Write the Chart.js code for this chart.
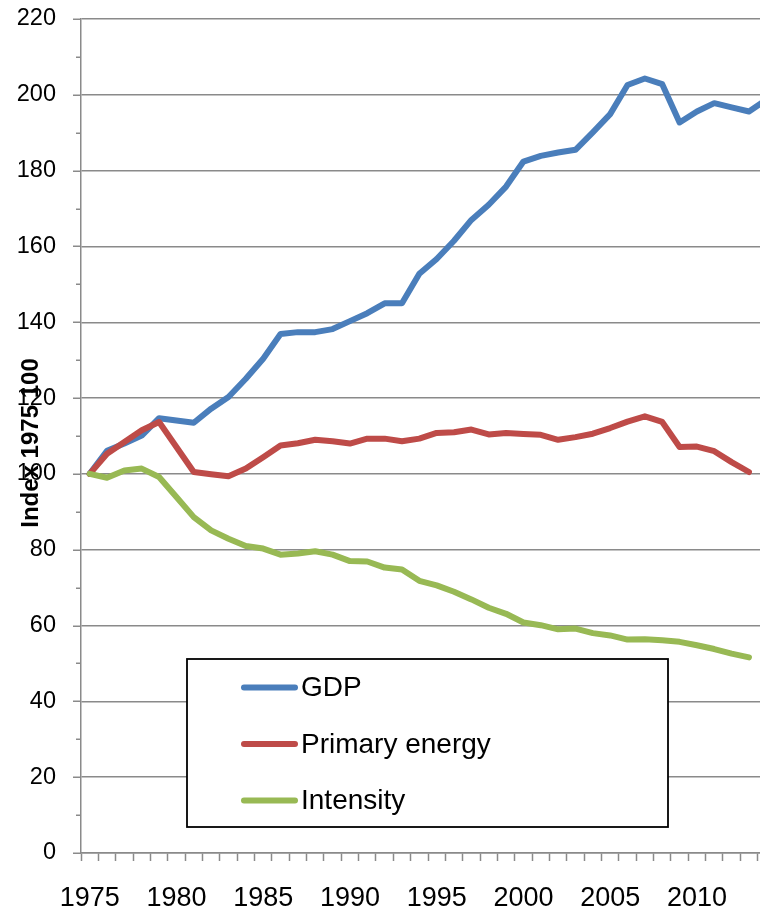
<!DOCTYPE html>
<html><head><meta charset="utf-8">
<style>
html,body{margin:0;padding:0;overflow:hidden;background:#fff;width:760px;height:910px}
#wrap{position:absolute;left:0;top:0;width:780px;height:910px}
</style>
<script src="https://cdn.jsdelivr.net/npm/chart.js@4/dist/chart.umd.min.js"></script>
</head><body><div id="wrap"><canvas id="c" width="780" height="910"></canvas></div>
<script>
const years = ['1975','1976','1977','1978','1979','1980','1981','1982','1983','1984',
  '1985','1986','1987','1988','1989','1990','1991','1992','1993','1994',
  '1995','1996','1997','1998','1999','2000','2001','2002','2003','2004',
  '2005','2006','2007','2008','2009','2010','2011','2012','2013','2014'];
const gdp = [100, 106.1, 108.0, 110.1, 114.7, 114.1, 113.5, 117.2, 120.3, 125.1,
  130.4, 136.9, 137.4, 137.4, 138.2, 140.3, 142.4, 145.0, 145.0, 152.8,
  156.7, 161.5, 167.0, 171.0, 175.8, 182.4, 183.9, 184.8, 185.5, 190.1,
  194.9, 202.6, 204.3, 202.8, 192.7, 195.6, 197.8, 196.7, 195.6, 198.7];
const primaryEnergy = [100, 105.3, 108.4, 111.5, 113.7, 107.1, 100.5, 99.9, 99.4, 101.4,
  104.4, 107.5, 108.1, 109.0, 108.6, 108.0, 109.3, 109.3, 108.6, 109.3,
  110.8, 111.0, 111.7, 110.4, 110.8, 110.5, 110.3, 109.0, 109.7, 110.6,
  112.1, 113.8, 115.2, 113.7, 107.1, 107.2, 106.0, 103.1, 100.5, null];
const intensity = [100, 99.0, 100.9, 101.4, 99.2, 93.9, 88.6, 85.1, 82.9, 81.0,
  80.3, 78.7, 79.0, 79.6, 78.7, 77.0, 76.9, 75.3, 74.8, 71.8,
  70.6, 68.9, 66.9, 64.7, 63.1, 60.8, 60.1, 59.0, 59.2, 58.0,
  57.4, 56.3, 56.4, 56.1, 55.7, 54.8, 53.8, 52.6, 51.6, null];
const seriesLabels = ['GDP', 'Primary energy', 'Intensity'];
const seriesColors = ['#4a7ebb', '#be4b48', '#98b954'];
const yTitle = 'Index 1975 100';
const yMin = 0, yMax = 220, yMajor = 20, yMinor = 10, xLabelEvery = 5;

const FONT = "'Liberation Sans', Arial, sans-serif";
const GRID = '#8a8a8a';

const yTickMarks = {
  id: 'yTickMarks',
  afterDraw(chart) {
    const s = chart.scales.y, ctx = chart.ctx;
    ctx.save();
    ctx.strokeStyle = GRID; ctx.lineWidth = 1.5;
    for (let v = yMin; v <= yMax; v += yMinor) {
      const y = Math.round(s.getPixelForValue(v)) + 0.25;
      const len = (v % yMajor === 0) ? 8 : 5;
      ctx.beginPath(); ctx.moveTo(s.right - len, y); ctx.lineTo(s.right, y); ctx.stroke();
    }
    ctx.restore();
  }
};

const yTitlePlugin = {
  id: 'yTitlePlugin',
  afterDraw(chart) {
    const ctx = chart.ctx, a = chart.chartArea;
    ctx.save();
    ctx.translate(31, (a.top + a.bottom) / 2 + 7);
    ctx.rotate(-Math.PI / 2);
    ctx.font = "bold 24px " + FONT;
    ctx.fillStyle = '#000';
    ctx.textAlign = 'center'; ctx.textBaseline = 'middle';
    ctx.fillText(yTitle, 0, 0);
    ctx.restore();
  }
};

const boxLegend = {
  id: 'boxLegend',
  afterDraw(chart) {
    const ctx = chart.ctx;
    const bx = 187, by = 659, bw = 481, bh = 168;
    ctx.save();
    ctx.fillStyle = '#fff';
    ctx.fillRect(bx, by, bw, bh);
    ctx.strokeStyle = '#000'; ctx.lineWidth = 1.8;
    ctx.strokeRect(bx, by, bw, bh);
    ctx.font = "28px " + FONT;
    ctx.textBaseline = 'middle'; ctx.textAlign = 'left';
    chart.data.datasets.forEach((ds, i) => {
      const y = 687.5 + i * 56.5;
      ctx.strokeStyle = ds.borderColor; ctx.lineWidth = 6; ctx.lineCap = 'round';
      ctx.beginPath(); ctx.moveTo(244, y); ctx.lineTo(295, y); ctx.stroke();
      ctx.fillStyle = '#000';
      ctx.fillText(ds.label, 301, y + 1);
    });
    ctx.restore();
  }
};

new Chart(document.getElementById('c'), {
  type: 'line',
  data: {
    labels: years,
    datasets: [
      { label: seriesLabels[0], data: gdp, borderColor: seriesColors[0], order: 3 },
      { label: seriesLabels[1], data: primaryEnergy, borderColor: seriesColors[1], order: 2 },
      { label: seriesLabels[2], data: intensity, borderColor: seriesColors[2], order: 1 }
    ]
  },
  options: {
    responsive: false,
    animation: false,
    devicePixelRatio: 1,
    layout: { padding: { top: 19, right: 5, bottom: 0, left: 0 } },
    elements: {
      line: { borderWidth: 6, tension: 0, borderJoinStyle: 'round', borderCapStyle: 'round', fill: false },
      point: { radius: 0, hoverRadius: 0 }
    },
    plugins: { legend: { display: false }, tooltip: { enabled: false } },
    scales: {
      x: {
        type: 'category',
        offset: true,
        afterFit(s) { s.height = 57; s.paddingLeft = 0; s.paddingRight = 0; },
        grid: { offset: true, drawOnChartArea: false, drawTicks: true, tickLength: 8, tickColor: GRID, tickWidth: 1.5 },
        border: { color: GRID, width: 1.5 },
        ticks: {
          autoSkip: false, maxRotation: 0, minRotation: 0, padding: 21,
          color: '#000', font: { family: FONT, size: 27 },
          callback(v, i) { return (i % xLabelEvery === 0) ? years[i] : ''; }
        }
      },
      y: {
        min: yMin, max: yMax,
        afterFit(s) { s.width = 81; s.paddingTop = 0; s.paddingBottom = 0; },
        grid: {
          color: (c) => (c.tick && c.tick.value % yMajor === 0) ? GRID : 'rgba(0,0,0,0)',
          lineWidth: 1.5, drawTicks: false
        },
        border: { color: GRID, width: 1.5 },
        ticks: {
          stepSize: yMinor, padding: 25, color: '#000',
          font: { family: FONT, size: 23.5 },
          callback(v) { return (v % yMajor === 0) ? v : ''; }
        }
      }
    }
  },
  plugins: [yTickMarks, yTitlePlugin, boxLegend]
});
</script>
</body></html>
